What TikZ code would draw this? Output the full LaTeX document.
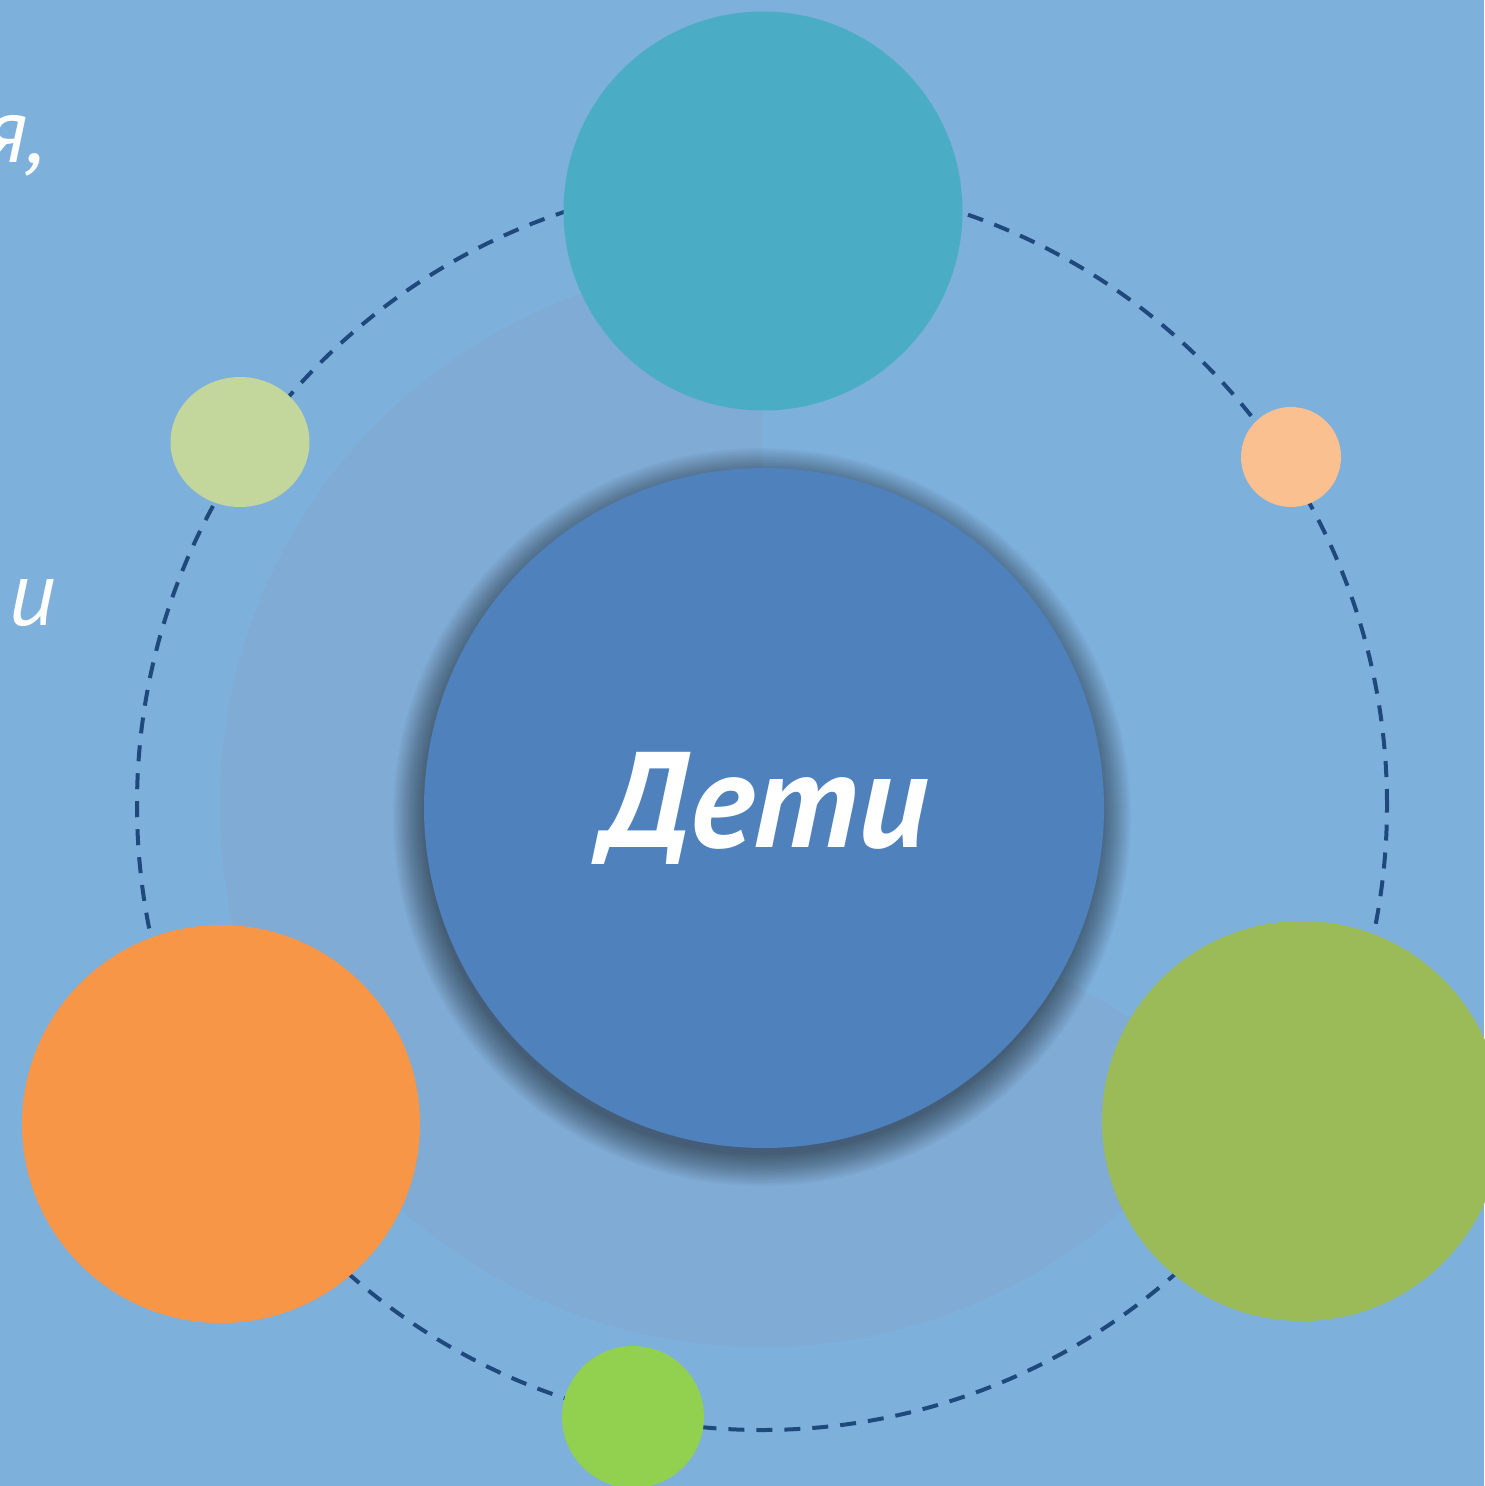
\documentclass[tikz,border=0pt]{standalone}
\usepackage{fontspec}
\usetikzlibrary{shapes.geometric}
\newfontfamily\ptsans{PT Sans}
\definecolor{bgcol}{HTML}{7EB0DC}
\definecolor{piecol}{HTML}{80ABD4}
\definecolor{centercol}{HTML}{4F81BD}
\definecolor{topcol}{HTML}{4BACC6}
\definecolor{lgreen}{HTML}{C3D69B}
\definecolor{peach}{HTML}{FAC090}
\definecolor{orangecol}{HTML}{F79646}
\definecolor{greencol}{HTML}{9BBB59}
\definecolor{limecol}{HTML}{92D050}
\definecolor{dashcol}{HTML}{1F497D}
\begin{document}
\begin{tikzpicture}[x=0.5pt,y=-0.5pt,
  ball/.style={circle,inner sep=0pt,draw=none},
  egg/.style={ellipse,inner sep=0pt,draw=none},
  sidetext/.style={text=white,inner sep=0pt,font=\ptsans\itshape\fontsize{46}{50}\selectfont}]
\fill[bgcol] (0,0) rectangle (1484,1486);
\useasboundingbox (0,0) rectangle (1484,1486);
% background pie
\fill[piecol] (762,805) -- ++(0pt,271pt) arc[start angle=90,end angle=330,radius=271pt] -- cycle;
% dashed orbit
\node[ball,draw=dashcol,line width=2pt,dash pattern=on 8pt off 6pt,minimum size=625pt] (orbit) at (762,805) {};
% soft shadow of centre circle
\foreach \k in {1,...,22}{
  \fill[black,opacity=0.022] (762,817) circle[radius=168pt+0.75*\k pt];
}
\node[ball,fill=centercol,minimum size=340pt,text=white,
  font=\ptsans\bfseries\itshape\fontsize{68}{76}\selectfont] (centre) at (764,808) {Дети};
% outer circles
\node[ball,fill=topcol,minimum size=199.5pt] (top) at (763,211) {};
\node[egg,fill=lgreen,minimum width=69.5pt,minimum height=65pt] (lg) at (240,442) {};
\node[ball,fill=peach,minimum size=50pt] (pe) at (1291,457) {};
\node[ball,fill=orangecol,minimum size=199pt] (or) at (221,1124) {};
\node[ball,fill=greencol,minimum size=200pt] (gr) at (1302,1121) {};
\node[ball,fill=limecol,minimum size=71pt] (li) at (633,1417) {};
% cut-off side texts
\node[sidetext,anchor=base east] (t1) at (46,163) {я,};
\node[sidetext,anchor=base east] (t2) at (56,625) {и};
\end{tikzpicture}
\end{document}
